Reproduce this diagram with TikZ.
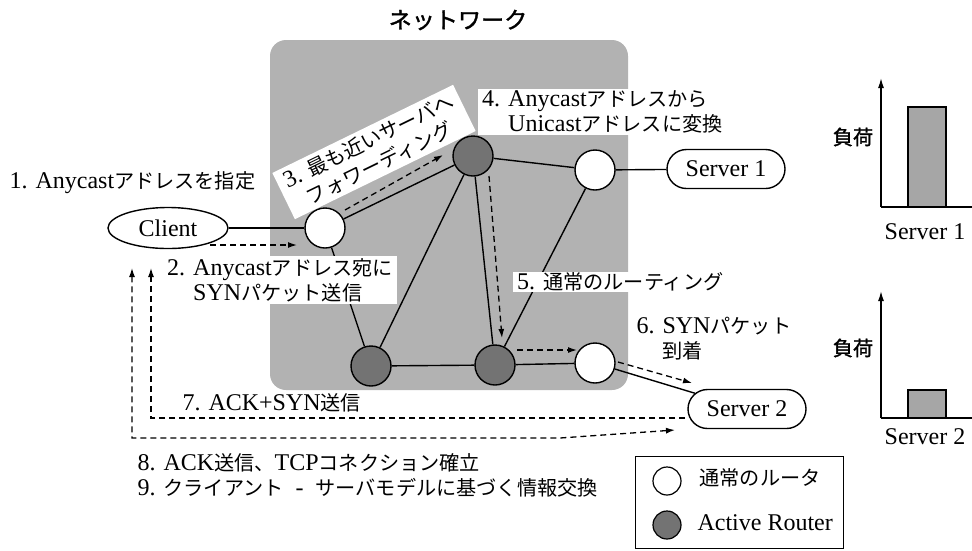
\documentclass[tikz,border=0pt]{standalone}
\usepackage{fontspec}
\setmainfont{Liberation Serif}
\newfontfamily\jp{Noto Sans CJK JP}[Scale=0.84]
\newfontfamily\jpb{Noto Sans CJK JP}[Scale=0.84, FakeBold=1.5]
\newcommand\J[1]{{\jp #1}}
\usetikzlibrary{arrows.meta,shapes.geometric,shapes.misc,calc}
\begin{document}
\begin{tikzpicture}[x=1pt,y=-1pt,
  every node/.style={font=\fontsize{24}{25}\selectfont},
  router/.style={circle, draw, line width=1.4pt, minimum size=40pt, inner sep=0pt, fill=white},
  active/.style={router, fill=black!55},
  server/.style={rounded rectangle, draw, line width=1.4pt, minimum width=118pt, minimum height=39pt, inner sep=0pt, fill=white},
  link/.style={line width=1.4pt},
  flow/.style={line width=1.3pt, dash pattern=on 6pt off 4pt, -{Latex[length=9pt,width=6pt]}},
  flowboth/.style={line width=1.3pt, dash pattern=on 6pt off 4pt, {Latex[length=9pt,width=6pt]}-{Latex[length=9pt,width=6pt]}},
  lbl/.style={fill=white, inner xsep=4pt, inner ysep=2pt, align=left},
  bar/.style={line width=1.4pt, fill=black!35}
]
\useasboundingbox (0,0) rectangle (972,550);
% network region
\fill[black!30, rounded corners=16pt] (270,40) rectangle (628,390);
\node (title) at (458,20) {{\jpb\fontsize{27.5}{30}\selectfont ネットワーク}};

% nodes
\node[ellipse, draw, line width=1.4pt, minimum width=120pt, minimum height=41pt, inner sep=0pt, fill=white] (client) at (168,228) {Client};
\node[router] (r1) at (325,228) {};
\node[active] (a1) at (473,156) {};
\node[router] (r2) at (595,170) {};
\node[active] (a2) at (371,366) {};
\node[active] (a3) at (495,365) {};
\node[router] (r3) at (595,363) {};
\node[server] (s1) at (726,169) {Server 1};
\node[server] (s2) at (747,409) {Server 2};

% links
\draw[link] (client) -- (r1);
\draw[link] (r1) -- (a1);
\draw[link] (r1) -- (a2);
\draw[link] (a1) -- (a2);
\draw[link] (a1) -- (a3);
\draw[link] (a1) -- (r2);
\draw[link] (r2) -- (s1);
\draw[link] (r2) -- (a3);
\draw[link] (a2) -- (a3);
\draw[link] (a3) -- (r3);
\draw[link] (r3) -- (s2);

% packet flows
\draw[flow] ($(client)+(42,17)$) -- ($(r1)+(-28,17)$);
\draw[flow] ($(r1)+(20,-18)$) -- ($(a1)+(-30,-1)$);
\draw[flow] ($(a1)+(16,20)$) -- ($(a3)+(7,-27)$);
\draw[flow] ($(a3)+(22,-15)$) -- ($(r3)+(-18,-13)$);
\draw[flow] ($(r3)+(23,-1)$) -- ($(s2)+(-55,-26)$);
\coordinate (c7) at (151,268);
\coordinate (c8) at (132,268);
\draw[flow] ($(s2)+(-62,9)$) -| (c7);
\draw[flowboth] (c8) |- (560,438) -- ($(s2)+(-72,21)$);

% labels
\node[anchor=west] (l1) at (6,183) {1. Anycast\J{アドレスを指定}};
\node[lbl, anchor=west] (l2) at (163,280) {2. Anycast\J{アドレス宛に}\\\hphantom{2. }SYN\J{パケット送信}};
\node[lbl, rotate=26, align=center, inner xsep=7pt, inner ysep=4pt] (l3) at (374,152) {3. \J{最も近いサーバへ}\\\J{フォワーディング}};
\node[lbl, anchor=west] (l4) at (478,112) {4. Anycast\J{アドレスから}\\\hphantom{4. }Unicast\J{アドレスに変換}};
\node[lbl, anchor=west, inner ysep=1pt] (l5) at (513,282) {5. \J{通常のルーティング}};
\node[anchor=west, align=left] (l6) at (633,339) {6. SYN\J{パケット}\\\hphantom{6. }\J{到着}};
\node[anchor=west] (l7) at (179,403) {7. ACK+SYN\J{送信}};
\node[anchor=west, align=left] (l8) at (134,475) {8. ACK\J{送信、}TCP\J{コネクション確立}\\9. \J{クライアント}\ \ -\ \ \J{サーバモデルに基づく情報交換}};

% legend
\node[draw, line width=1pt, minimum width=208pt, minimum height=92pt, anchor=north west, inner sep=0pt] (leg) at (635,456) {};
\node[router, minimum size=28pt, line width=1.2pt] (lr) at (667,481) {};
\node[anchor=west] (lrt) at (696,478) {\J{通常のルータ}};
\node[active, minimum size=28pt, line width=1.2pt] (la) at (667,525) {};
\node[anchor=west] (lat) at (694,523) {Active Router};

% load charts
\draw[bar] (908,207) rectangle (946,107);
\draw[link, -{Latex[length=10pt,width=6pt]}] (881,207) -- (881,78);
\draw[link] (881,207) -- (972,207);
\node (ld1) at (853,137) {{\jpb 負荷}};
\node (sv1) at (925,232) {Server 1};
\draw[bar] (908,418) rectangle (946,390);
\draw[link, -{Latex[length=10pt,width=6pt]}] (881,418) -- (881,291);
\draw[link] (881,418) -- (972,418);
\node (ld2) at (853,348) {{\jpb 負荷}};
\node (sv2) at (925,437) {Server 2};
\end{tikzpicture}
\end{document}
